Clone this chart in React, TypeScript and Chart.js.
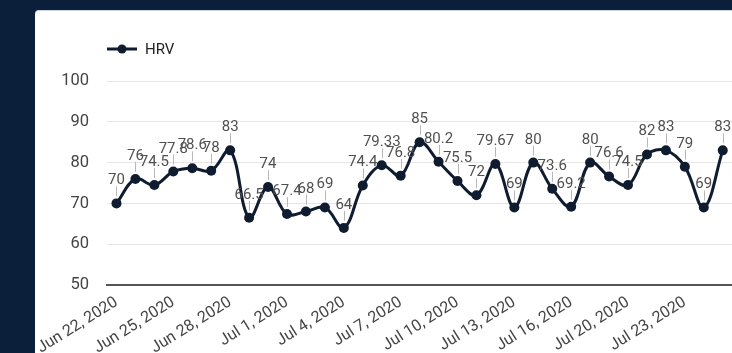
import React, { useEffect, useRef } from "react";
import { Chart, registerables } from "chart.js";

Chart.register(...registerables);

// Daily HRV readings
const dates = [
  "Jun 22, 2020", "Jun 23, 2020", "Jun 24, 2020", "Jun 25, 2020", "Jun 26, 2020",
  "Jun 27, 2020", "Jun 28, 2020", "Jun 29, 2020", "Jun 30, 2020", "Jul 1, 2020",
  "Jul 2, 2020", "Jul 3, 2020", "Jul 4, 2020", "Jul 5, 2020", "Jul 6, 2020",
  "Jul 7, 2020", "Jul 8, 2020", "Jul 9, 2020", "Jul 10, 2020", "Jul 11, 2020",
  "Jul 12, 2020", "Jul 13, 2020", "Jul 14, 2020", "Jul 15, 2020", "Jul 16, 2020",
  "Jul 17, 2020", "Jul 19, 2020", "Jul 20, 2020", "Jul 21, 2020", "Jul 22, 2020",
  "Jul 23, 2020", "Jul 24, 2020", "Jul 25, 2020",
];

const hrv = [
  70, 76, 74.5, 77.8, 78.6, 78, 83, 66.5, 74, 67.4, 68, 69, 64, 74.4, 79.33, 76.8,
  85, 80.2, 75.5, 72, 79.67, 69, 80, 73.6, 69.2, 80, 76.6, 74.5, 82, 83, 79, 69, 83,
];

const seriesName = "HRV";
const yMin = 50;
const yMax = 100;
const yStep = 10;
const labelEvery = 3;

const PAGE_BG = "#0b1e3a";
const LINE_COLOR = "#0f1b2f";
const TEXT_COLOR = "#444444";
const FONT = "Roboto";

// The plot runs off the right edge of the card, so the canvas is a bit wider
// than the visible frame and the overflow is clipped.
const FRAME_W = 732;
const FRAME_H = 353;
const CANVAS_W = 741;

// Value annotation with a short stem above every point
const valueLabels = {
  id: "valueLabels",
  afterDatasetsDraw(chart: any) {
    const ctx = chart.ctx;
    const meta = chart.getDatasetMeta(0);
    const values = chart.data.datasets[0].data as number[];
    ctx.save();
    ctx.font = `15px ${FONT}`;
    ctx.textAlign = "center";
    ctx.textBaseline = "alphabetic";
    meta.data.forEach((pt: any, i: number) => {
      const { x, y } = pt.getProps(["x", "y"], true);
      ctx.strokeStyle = "#b8b8b8";
      ctx.lineWidth = 1;
      ctx.beginPath();
      ctx.moveTo(Math.round(x) + 0.5, y - 7);
      ctx.lineTo(Math.round(x) + 0.5, y - 17);
      ctx.stroke();
      ctx.fillStyle = "#505050";
      ctx.fillText(String(values[i]), x, y - 19);
    });
    ctx.restore();
  },
};

// Line-and-dot legend in the top-left corner
const lineLegend = {
  id: "lineLegend",
  afterDraw(chart: any) {
    const ctx = chart.ctx;
    const ds = chart.data.datasets[0];
    const left = chart.chartArea.left;
    const cy = 49;
    ctx.save();
    ctx.strokeStyle = ds.borderColor;
    ctx.lineWidth = 3;
    ctx.beginPath();
    ctx.moveTo(left, cy);
    ctx.lineTo(left + 30, cy);
    ctx.stroke();
    ctx.fillStyle = ds.borderColor;
    ctx.beginPath();
    ctx.arc(left + 15, cy, 4.5, 0, Math.PI * 2);
    ctx.fill();
    ctx.font = `15px ${FONT}`;
    ctx.fillStyle = "#222222";
    ctx.textAlign = "left";
    ctx.textBaseline = "middle";
    ctx.fillText(ds.label, left + 38, cy + 1);
    ctx.restore();
  },
};

export default function App() {
  const canvasRef = useRef<HTMLCanvasElement | null>(null);

  useEffect(() => {
    if (!canvasRef.current) return;
    Chart.defaults.font.family = FONT;
    const chart = new Chart(canvasRef.current, {
      type: "line",
      data: {
        labels: dates,
        datasets: [
          {
            label: seriesName,
            data: hrv,
            borderColor: LINE_COLOR,
            backgroundColor: LINE_COLOR,
            borderWidth: 3,
            pointRadius: 5,
            pointBackgroundColor: LINE_COLOR,
            pointBorderWidth: 0,
            tension: 0.38,
          },
        ],
      },
      options: {
        animation: false,
        responsive: false,
        devicePixelRatio: 1,
        layout: { padding: { top: 81, left: 0, right: 0, bottom: 0 } },
        plugins: {
          legend: { display: false },
          tooltip: { enabled: false },
        },
        scales: {
          x: {
            type: "category",
            offset: true,
            grid: { display: false, drawTicks: false },
            border: { display: true, color: "#555555", width: 2 },
            ticks: {
              autoSkip: false,
              minRotation: 32,
              maxRotation: 32,
              padding: 8,
              color: TEXT_COLOR,
              font: { size: 16, family: FONT },
              callback: (_v: any, i: number) => (i % labelEvery === 0 ? dates[i] : ""),
            },
            afterFit: (s: any) => {
              s.height = 68;
            },
          },
          y: {
            min: yMin,
            max: yMax,
            grid: { color: "#e6e6e6", lineWidth: 1, drawTicks: false },
            border: { display: false },
            ticks: {
              stepSize: yStep,
              padding: 18,
              color: TEXT_COLOR,
              font: { size: 16.5, family: FONT },
            },
            afterFit: (s: any) => {
              s.width = 107;
            },
          },
        },
      },
      plugins: [valueLabels, lineLegend],
    });
    return () => chart.destroy();
  }, []);

  return (
    <div style={{ position: "fixed", left: 0, top: 0, width: FRAME_W, height: FRAME_H, background: PAGE_BG, overflow: "hidden" }}>
      <div
        style={{
          position: "absolute",
          left: 35,
          top: 10,
          width: 760,
          height: 400,
          background: "#ffffff",
          borderRadius: 4,
          borderTop: "1px solid #c9d6e6",
        }}
      />
      <canvas
        ref={canvasRef}
        width={CANVAS_W}
        height={FRAME_H}
        style={{ position: "absolute", left: 0, top: 0, width: CANVAS_W, height: FRAME_H }}
      />
    </div>
  );
}
